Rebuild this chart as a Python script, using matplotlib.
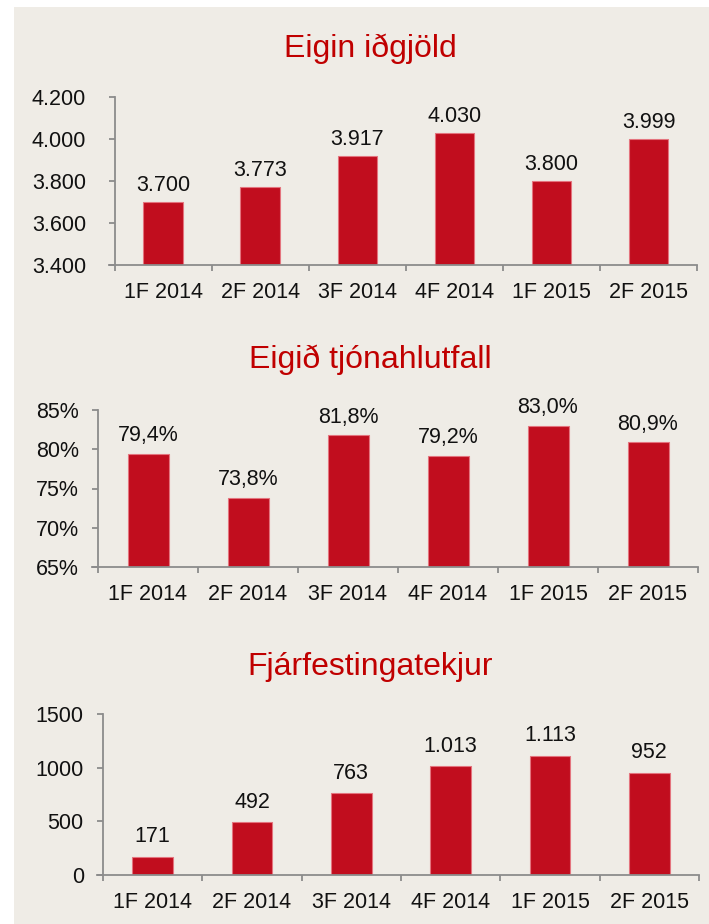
import matplotlib
matplotlib.use("Agg")
import matplotlib.pyplot as plt
from matplotlib.patches import Rectangle
from matplotlib.ticker import FixedLocator, FuncFormatter

plt.rcParams["font.family"] = ["Liberation Sans", "DejaVu Sans"]

quarters = ["1F 2014", "2F 2014", "3F 2014", "4F 2014", "1F 2015", "2F 2015"]

premiums = [3700, 3773, 3917, 4030, 3800, 3999]
loss_ratio = [79.4, 73.8, 81.8, 79.2, 83.0, 80.9]
investment = [171, 492, 763, 1013, 1113, 952]

titles = ["Eigin iðgjöld", "Eigið tjónahlutfall", "Fjárfestingatekjur"]

BAR = "#c10d1e"
EDGE = "#e4747e"
AXIS = "#8c8c8c"
BG = "#efece6"
TITLE = "#c00000"
TEXT = "#111111"

W, H = 709, 924
fig = plt.figure(figsize=(W / 100, H / 100), dpi=100, facecolor="white")
fig.patches.append(Rectangle((14 / W, 0), 1 - 14 / W, 1 - 7 / H,
                             transform=fig.transFigure, facecolor=BG,
                             edgecolor="none", zorder=-10))


def thousands(v, _=None):
    return f"{int(round(v)):,}".replace(",", ".")


def pct(v, _=None):
    return f"{v:.0f}%"


def pct1(v):
    return f"{v:.1f}%".replace(".", ",")


def plain(v, _=None):
    return f"{int(round(v))}"


# (pixel box: left, right, top, bottom), ylim, yticks, tick fmt, label fmt,
# ypad, label offset, title baseline
panels = [
    (premiums, (109, 697, 97, 265), (3400, 4200), [3400, 3600, 3800, 4000, 4200],
     thousands, thousands, 16.5, 8, 57),
    (loss_ratio, (92, 698, 410, 567), (65, 85), [65, 70, 75, 80, 85],
     pct, pct1, 9.5, 9, 368),
    (investment, (97, 699, 714, 875), (0, 1500), [0, 500, 1000, 1500],
     plain, thousands, 9.5, 10.5, 675),
]

for (vals, box, ylim, yticks, tfmt, lfmt, ypad, loff, tb), title in zip(panels, titles):
    l, r, t, b = box
    ax = fig.add_axes([l / W, 1 - b / H, (r - l) / W, (b - t) / H])
    ax.set_facecolor("none")
    x = range(len(quarters))
    ax.bar(x, vals, width=0.41, color=BAR, edgecolor=EDGE, linewidth=0.8, zorder=2)
    for xi, v in zip(x, vals):
        ax.annotate(lfmt(v), (xi, v), xytext=(0, loff), textcoords="offset points",
                    ha="center", va="baseline", fontsize=15.5, color=TEXT)

    ax.set_xlim(-0.56, len(quarters) - 0.5)
    ax.set_ylim(*ylim)
    ax.spines["left"].set_position(("data", -0.5))
    ax.spines["top"].set_visible(False)
    ax.spines["right"].set_visible(False)
    for s in ("left", "bottom"):
        ax.spines[s].set_color(AXIS)
        ax.spines[s].set_linewidth(1.3)

    ax.xaxis.set_major_locator(FixedLocator([i - 0.5 for i in range(len(quarters) + 1)]))
    ax.xaxis.set_major_formatter(FuncFormatter(lambda v, p: ""))
    ax.xaxis.set_minor_locator(FixedLocator(list(x)))
    ax.set_xticklabels(quarters, minor=True)
    ax.tick_params(axis="x", which="major", length=4.3, width=1.3, color=AXIS)
    ax.tick_params(axis="x", which="minor", length=0, pad=12, labelsize=15.5,
                   labelcolor=TEXT)

    ax.yaxis.set_major_locator(FixedLocator(yticks))
    ax.yaxis.set_major_formatter(FuncFormatter(tfmt))
    ax.tick_params(axis="y", length=4.3, width=1.3, color=AXIS, pad=ypad,
                   labelsize=15.5, labelcolor=TEXT)

    fig.text(370 / W, 1 - tb / H, title, ha="center", va="baseline",
             fontsize=23, color=TITLE)

fig.savefig("out.png", dpi=100, facecolor=fig.get_facecolor())
